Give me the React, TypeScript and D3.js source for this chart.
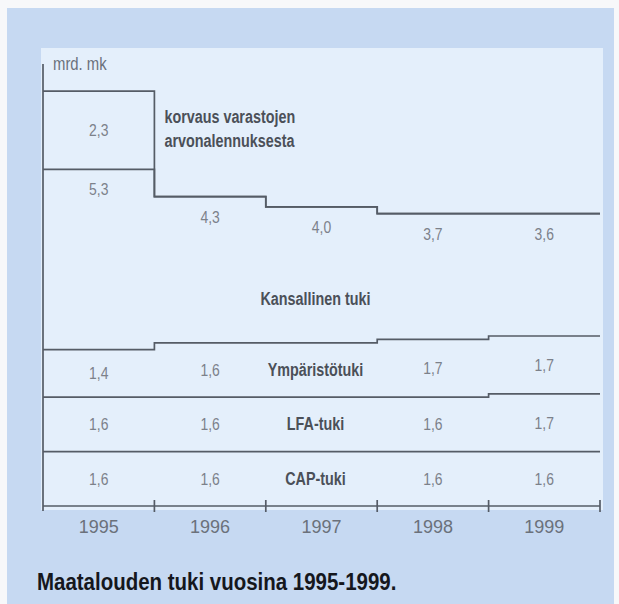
import React, { useEffect, useRef } from 'react';
import * as d3 from 'd3';

// Maatalouden tuki 1995-1999, mrd. mk
const years = ['1995', '1996', '1997', '1998', '1999'];
const capTuki = [1.6, 1.6, 1.6, 1.6, 1.6];
const lfaTuki = [1.6, 1.6, 1.6, 1.6, 1.7];
const ymparistoTuki = [1.4, 1.6, 1.6, 1.7, 1.7];
const kansallinenTuki = [5.3, 4.3, 4.0, 3.7, 3.6];
const korvaus = [2.3, 0, 0, 0, 0];

const seriesKeys = ['cap', 'lfa', 'ymp', 'kans', 'korv'];
const seriesLabels = ['CAP-tuki', 'LFA-tuki', 'Ympäristötuki', 'Kansallinen tuki'];
const korvausLines = ['korvaus varastojen', 'arvonalennuksesta'];
const unitLabel = 'mrd. mk';
const chartTitle = 'Maatalouden tuki vuosina 1995-1999.';

const SANS = '"Liberation Sans", Arial, sans-serif';
// no narrow font installed, so squeeze Liberation Sans horizontally
const NARROW = 0.82;

const App = () => {
  const ref = useRef<SVGSVGElement | null>(null);

  useEffect(() => {
    const svg = d3.select(ref.current);
    svg.selectAll('*').remove();

    const width = 619;
    const height = 604;

    const rows = years.map((year, i) => ({
      year,
      cap: capTuki[i],
      lfa: lfaTuki[i],
      ymp: ymparistoTuki[i],
      kans: kansallinenTuki[i],
      korv: korvaus[i],
    }));

    const fi = d3.formatLocale({ decimal: ',', thousands: ' ', grouping: [3], currency: ['', ' mk'] });
    const fmt = fi.format('.1f');

    // scales
    const x = d3.scaleBand().domain(years).range([43, 600]).paddingInner(0).paddingOuter(0);
    const y = d3.scaleLinear().domain([0, 13]).range([506, 64]);

    const stack = d3.stack<any>().keys(seriesKeys);
    const layers = stack(rows);

    // narrow text helper
    const narrow = (
      parent: any,
      tx: number,
      ty: number,
      text: string,
      size: number,
      fill: string,
      bold = false,
      anchor = 'middle',
      squeeze = NARROW
    ) =>
      parent
        .append('text')
        .attr('transform', `translate(${tx},${ty}) scale(${squeeze},1)`)
        .attr('text-anchor', anchor)
        .style('font-family', SANS)
        .style('font-weight', bold ? 'bold' : 'normal')
        .style('font-size', `${size}px`)
        .style('fill', fill)
        .text(text);

    // backgrounds
    svg.append('rect').attr('width', width).attr('height', height).attr('fill', '#f7f8fa');
    svg.append('rect').attr('x', 7).attr('y', 8).attr('width', 607).attr('height', 596).attr('fill', '#c6d9f2');
    svg.append('rect').attr('x', 41).attr('y', 48).attr('width', 562).attr('height', 462).attr('fill', '#e4effb');

    const lineColor = '#555c66';

    // top edge of each stacked layer as a step line
    const line = d3.line();
    const chart = svg.append('g');
    layers.forEach((layer) => {
      const pts: [number, number][] = [];
      layer.forEach((d, i) => {
        const x0 = x(years[i]) as number;
        pts.push([x0, y(d[1])], [x0 + x.bandwidth(), y(d[1])]);
      });
      chart
        .append('path')
        .attr('d', line(pts))
        .attr('fill', 'none')
        .attr('stroke', lineColor)
        .attr('stroke-width', 1.7);
    });

    // y axis line
    chart
      .append('line')
      .attr('x1', 43).attr('x2', 43)
      .attr('y1', y.range()[1]).attr('y2', y(0) + 5)
      .attr('stroke', lineColor).attr('stroke-width', 1.7);

    // x axis with boundary ticks
    chart
      .append('line')
      .attr('x1', 43).attr('x2', 600)
      .attr('y1', y(0)).attr('y2', y(0))
      .attr('stroke', lineColor).attr('stroke-width', 1.7);
    const bounds = years.map((yr) => x(yr) as number).concat([x.range()[1]]);
    chart
      .selectAll('.tick')
      .data(bounds.slice(1))
      .enter()
      .append('line')
      .attr('x1', (d) => d).attr('x2', (d) => d)
      .attr('y1', y(0) - 6).attr('y2', y(0) + 6)
      .attr('stroke', lineColor).attr('stroke-width', 1.7);

    // year labels
    chart
      .selectAll('.year')
      .data(years)
      .enter()
      .append('text')
      .attr('x', (d) => (x(d) as number) + x.bandwidth() / 2)
      .attr('y', 533)
      .attr('text-anchor', 'middle')
      .style('font-family', SANS)
      .style('font-size', '18px')
      .style('fill', '#6b717b')
      .text((d) => d);

    // series names sit in the 1997 column
    const nameCol = 2;

    // value labels
    layers.forEach((layer, li) => {
      layer.forEach((d, i) => {
        const v = d[1] - d[0];
        if (v <= 0) return;
        if (i === nameCol && li < 3) return;
        const cx = (x(years[i]) as number) + x.bandwidth() / 2;
        let by = (y(d[0]) + y(d[1])) / 2 + 6;
        if (seriesKeys[li] === 'kans') by = y(d[1]) + 26;
        narrow(chart, cx, by, fmt(v), 17, '#7c818a');
      });
    });

    seriesLabels.forEach((label, li) => {
      const d = layers[li][nameCol];
      const cx = (x(years[nameCol]) as number) + x.bandwidth() / 2 - 6;
      let by = (y(d[0]) + y(d[1])) / 2 + 6;
      if (seriesKeys[li] === 'kans') by = y(d[0] + 0.28 * (d[1] - d[0]));
      narrow(chart, cx, by, label, 17.5, '#4b5058', true);
    });

    // korvaus label beside the 1995 block
    const k = layers[4][0];
    const kMid = (y(k[0]) + y(k[1])) / 2;
    korvausLines.forEach((t, i) => {
      narrow(chart, (x(years[1]) as number) + 10, kMid - 7 + i * 24, t, 17.5, '#4b5058', true, 'start');
    });

    // unit label
    narrow(svg, 53, 70, unitLabel, 17.5, '#6b717b', false, 'start', 0.85);

    // title
    narrow(svg, 37, 590, chartTitle, 23, '#15171d', true, 'start', 0.89);
  }, []);

  return (
    <div style={{ position: 'absolute', left: 0, top: 0 }}>
      <svg ref={ref} width="619" height="604" style={{ display: 'block' }}></svg>
    </div>
  );
};

export default App;
